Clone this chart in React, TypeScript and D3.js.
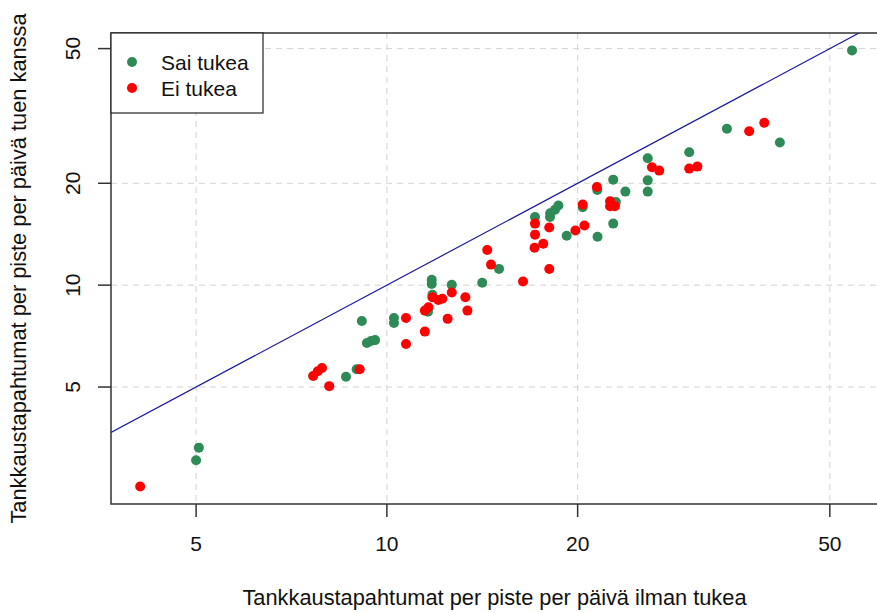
import React from "react";
import * as d3 from "d3";

// Sai tukea (green)
const saiX = [5.0, 5.05, 9.13, 9.3, 9.44, 9.58, 8.62, 8.96, 10.26, 10.26, 11.77, 11.77, 11.8, 11.61, 12.66, 14.14, 15.03, 17.13, 18.09, 18.1, 18.42, 18.65, 19.22, 20.37, 21.48, 21.5, 22.76, 22.98, 22.76, 23.79, 25.8, 25.8, 25.8, 30.0, 34.4, 41.7, 54.2];
const saiY = [3.04, 3.31, 7.84, 6.75, 6.84, 6.88, 5.36, 5.64, 8.0, 7.73, 10.37, 10.08, 9.36, 8.35, 10.02, 10.16, 11.17, 15.9, 15.9, 16.3, 16.7, 17.2, 14.0, 17.0, 19.1, 13.9, 20.5, 17.6, 15.2, 18.9, 23.7, 20.4, 18.9, 24.7, 29.0, 26.4, 49.4];

// Ei tukea (red)
const eiX = [4.08, 7.65, 7.78, 7.9, 8.11, 9.06, 10.72, 10.72, 11.48, 11.48, 11.63, 11.8, 12.05, 12.23, 12.47, 12.66, 13.3, 13.4, 14.4, 14.6, 16.4, 17.13, 17.13, 17.1, 17.65, 18.04, 18.04, 19.84, 20.5, 20.37, 21.45, 22.5, 22.5, 22.9, 26.2, 26.9, 30.0, 30.9, 37.3, 39.4];
const eiY = [2.54, 5.39, 5.57, 5.69, 5.03, 5.64, 8.0, 6.7, 7.29, 8.41, 8.6, 9.21, 9.04, 9.12, 7.95, 9.51, 9.21, 8.41, 12.7, 11.5, 10.25, 15.2, 14.1, 12.9, 13.25, 14.8, 11.16, 14.5, 15.0, 17.3, 19.5, 17.7, 17.1, 17.1, 22.3, 21.8, 22.1, 22.4, 28.5, 30.2];

const ticks = [5, 10, 20, 50];
const legendLabels = ["Sai tukea", "Ei tukea"];
const colors = ["#2E8B57", "#FF0000"];

const W = 877;
const H = 613;
const m = { left: 111, right: 880, top: 33, bottom: 504 };
const font = "'Liberation Sans', Arial, sans-serif";

export default function App() {
  const x = d3.scaleLog().domain([3.67, 60]).range([m.left, m.right]);
  const y = d3.scaleLog().domain([2.256, 55.6]).range([m.bottom, m.top]);

  const sai = saiX.map((v, i) => ({ x: v, y: saiY[i] }));
  const ei = eiX.map((v, i) => ({ x: v, y: eiY[i] }));

  const [x0, x1] = x.domain();
  const diag = d3.line<number>().x((d) => x(d)).y((d) => y(d))([x0, x1]) || "";

  const cy = (m.top + m.bottom) / 2;
  const cx = (m.left + m.right) / 2;
  const r = 5;

  return (
    <svg width={W} height={H} style={{ position: "absolute", left: 0, top: 0, background: "#fff" }}>
      <defs>
        <clipPath id="plotclip">
          <rect x={m.left} y={m.top} width={m.right - m.left} height={m.bottom - m.top} />
        </clipPath>
      </defs>

      {/* grid */}
      <g stroke="#d3d3d3" strokeWidth={1} strokeDasharray="6,5">
        {ticks.map((t) => (
          <line key={"gx" + t} x1={x(t)} x2={x(t)} y1={m.top} y2={m.bottom} />
        ))}
        {ticks.map((t) => (
          <line key={"gy" + t} x1={m.left} x2={m.right} y1={y(t)} y2={y(t)} />
        ))}
      </g>

      {/* y = x */}
      <path d={diag} stroke="#1a1aa0" strokeWidth={1.2} fill="none" clipPath="url(#plotclip)" />

      {/* points */}
      <g clipPath="url(#plotclip)">
        {sai.map((d, i) => (
          <circle key={"s" + i} cx={x(d.x)} cy={y(d.y)} r={r} fill={colors[0]} />
        ))}
        {ei.map((d, i) => (
          <circle key={"e" + i} cx={x(d.x)} cy={y(d.y)} r={r} fill={colors[1]} />
        ))}
      </g>

      {/* box */}
      <rect x={m.left} y={m.top} width={m.right - m.left} height={m.bottom - m.top} fill="none" stroke="#333" strokeWidth={1.5} />

      {/* axes */}
      <g stroke="#333" strokeWidth={1.5}>
        {ticks.map((t) => (
          <line key={"tx" + t} x1={x(t)} x2={x(t)} y1={m.bottom} y2={m.bottom + 13} />
        ))}
        {ticks.map((t) => (
          <line key={"ty" + t} x1={m.left - 13} x2={m.left} y1={y(t)} y2={y(t)} />
        ))}
      </g>
      <g fontFamily={font} fontSize={21} fill="#111">
        {ticks.map((t) => (
          <text key={"lx" + t} x={x(t)} y={551} textAnchor="middle">
            {t}
          </text>
        ))}
        {ticks.map((t) => (
          <text key={"ly" + t} transform={`translate(80,${y(t)}) rotate(-90)`} textAnchor="middle">
            {t}
          </text>
        ))}
        <text x={cx - 1} y={605} textAnchor="middle" fontSize={21.8}>
          Tankkaustapahtumat per piste per päivä ilman tukea
        </text>
        <text transform={`translate(26,${cy}) rotate(-90)`} textAnchor="middle" fontSize={21.8}>
          Tankkaustapahtumat per piste per päivä tuen kanssa
        </text>
      </g>

      {/* legend */}
      <rect x={m.left} y={m.top} width={152} height={80} fill="#fff" stroke="#222" strokeWidth={1.2} />
      {legendLabels.map((l, i) => (
        <g key={l}>
          <circle cx={132} cy={62 + i * 26} r={r} fill={colors[i]} />
          <text x={161} y={62 + i * 26 + 7.5} fontFamily={font} fontSize={21} fill="#111">
            {l}
          </text>
        </g>
      ))}
    </svg>
  );
}
